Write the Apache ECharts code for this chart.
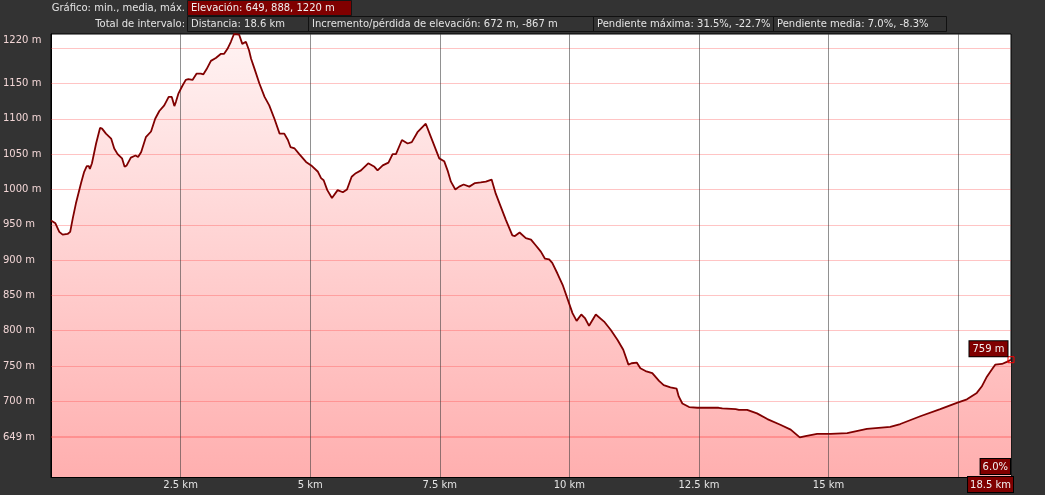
<!DOCTYPE html>
<html>
<head>
<meta charset="utf-8">
<script src="https://cdn.jsdelivr.net/npm/echarts@6/dist/echarts.min.js"></script>
<style>
html,body{margin:0;padding:0;background:#333333;}
#chart{width:1045px;height:495px;}
</style>
</head>
<body>
<div id="chart"></div>
<script>
// ---- data ----
const distanceKm = [0.00,0.085,0.16,0.225,0.32,0.37,0.42,0.48,0.58,0.64,0.69,0.73,0.75,0.79,0.87,0.946,0.985,1.06,1.16,1.22,1.285,1.37,1.42,1.46,1.54,1.63,1.68,1.74,1.83,1.93,2.01,2.09,2.185,2.27,2.33,2.38,2.41,2.46,2.53,2.60,2.65,2.73,2.81,2.89,2.94,3.00,3.085,3.18,3.28,3.34,3.405,3.47,3.53,3.63,3.69,3.76,3.82,3.86,3.925,4.02,4.12,4.21,4.31,4.41,4.50,4.57,4.62,4.70,4.79,4.92,5.02,5.15,5.21,5.26,5.33,5.42,5.53,5.63,5.71,5.80,5.88,5.98,6.12,6.24,6.30,6.40,6.51,6.59,6.655,6.77,6.88,6.96,7.07,7.23,7.33,7.49,7.585,7.65,7.715,7.80,7.875,7.96,8.07,8.18,8.29,8.39,8.50,8.58,8.68,8.775,8.90,8.95,9.04,9.16,9.26,9.35,9.45,9.53,9.61,9.67,9.77,9.87,9.975,10.06,10.14,10.23,10.30,10.38,10.51,10.67,10.80,10.93,11.04,11.14,11.20,11.235,11.30,11.32,11.37,11.47,11.60,11.73,11.82,11.95,12.07,12.11,12.18,12.31,12.47,12.88,12.95,13.21,13.27,13.43,13.62,13.82,14.07,14.27,14.445,14.555,14.78,15.04,15.36,15.74,16.19,16.385,16.77,17.155,17.475,17.67,17.86,17.955,18.055,18.15,18.215,18.345,18.44,18.52];
const elevationM = [956,952,940,936,937,940,959,980,1009,1025,1033,1033,1029,1037,1065,1087,1086,1079,1072,1058,1050,1044,1032,1034,1045,1048,1046,1053,1074,1082,1100,1111,1119,1131,1131,1118,1124,1136,1146,1155,1156,1155,1164,1164,1163,1170,1182,1186,1192,1192,1199,1209,1220,1219,1206,1209,1197,1185,1171,1150,1131,1119,1100,1079,1079,1070,1060,1058,1050,1039,1034,1025,1016,1013,999,988,999,996,1000,1018,1023,1027,1037,1032,1027,1034,1038,1050,1050,1070,1065,1067,1081,1093,1074,1044,1040,1027,1011,1000,1004,1007,1004,1009,1010,1011,1014,994,975,957,935,934,939,931,929,921,912,902,901,896,881,865,843,825,814,823,818,807,823,813,801,787,773,752,754,752,755,755,747,743,740,729,723,720,718,707,697,692,691,691,690,689,688,688,683,675,667,660,649,651,654,654,655,661,664,668,679,689,698,703,712,721,735,745,752,753,756,759];

const yLabelValues = [649,700,750,800,850,900,950,1000,1050,1100,1150,1220];
const yGridValues = [650,700,750,800,850,900,950,1000,1050,1100,1150,1200];
const xGridValues = [2.5,5,7.5,10,12.5,15,17.5];
const xLabelValues = [2.5,5,7.5,10,12.5,15];
const elevMin = 649, elevMean = 888, elevMax = 1220;
const yAxisMin = 593;
const endGrade = '6.0%';

const headerRow1Label = 'Gráfico: min., media, máx.';
const headerRow1Value = 'Elevación: ' + elevMin + ', ' + elevMean + ', ' + elevMax + ' m';
const headerRow2Label = 'Total de intervalo:';
const headerRow2Items = ['Distancia: 18.6 km','Incremento/pérdida de elevación: 672 m, -867 m','Pendiente máxima: 31.5%, -22.7%','Pendiente media: 7.0%, -8.3%'];

// ---- layout / style ----
const FONT = 'DejaVu Sans';
const txtShadow = {textShadowColor:'#000', textShadowOffsetX:1, textShadowOffsetY:1, textShadowBlur:0};
const row2Edges = [187,308,593,773,946];

const lastIdx = distanceKm.length - 1;
const areaData = distanceKm.map((d,i)=>[d, elevationM[i]]);
const lineData = distanceKm.map((d,i)=>{
  if (i !== lastIdx) return [d, elevationM[i]];
  return {
    value:[d, elevationM[i]],
    symbol:'rect', symbolSize:6,
    itemStyle:{color:'rgba(0,0,0,0)', borderColor:'#ff0000', borderWidth:1},
    label:{
      show:true, position:[0,0], align:'right', verticalAlign:'bottom',
      formatter: elevationM[i] + ' m',
      fontFamily:FONT, fontSize:10, lineHeight:12, color:'#f0f0f0',
      backgroundColor:'#800000', borderColor:'#000', borderWidth:1, padding:[2,3,1,3]
    }
  };
});

const graphics = [];
graphics.push({type:'text', x:185, y:8, z:10, style:Object.assign({text:headerRow1Label, align:'right', verticalAlign:'middle', fill:'#e4e4e4', font:'10px "'+FONT+'"'}, txtShadow)});
graphics.push({type:'rect', z:10, shape:{x:187.5, y:0.5, width:164, height:15}, style:{fill:'#800000', stroke:'#151515', lineWidth:1}});
graphics.push({type:'text', x:191, y:8, z:11, style:Object.assign({text:headerRow1Value, align:'left', verticalAlign:'middle', fill:'#eeeeee', font:'10px "'+FONT+'"'}, txtShadow)});
graphics.push({type:'text', x:185, y:24, z:10, style:Object.assign({text:headerRow2Label, align:'right', verticalAlign:'middle', fill:'#e4e4e4', font:'10px "'+FONT+'"'}, txtShadow)});
headerRow2Items.forEach((t,i)=>{
  const x0 = row2Edges[i], x1 = row2Edges[i+1];
  graphics.push({type:'rect', z:10, shape:{x:x0+0.5, y:16.5, width:x1-x0, height:15}, style:{fill:'#333333', stroke:'#111111', lineWidth:1}});
  graphics.push({type:'text', x:x0+4, y:24, z:11, style:Object.assign({text:t, align:'left', verticalAlign:'middle', fill:'#e4e4e4', font:'10px "'+FONT+'"'}, txtShadow)});
});
graphics.push({type:'text', x:1010, y:459, z:12, style:{text:endGrade, align:'right', verticalAlign:'top', fill:'#f0f0f0', font:'10px "'+FONT+'"', backgroundColor:'#800000', borderColor:'#000', borderWidth:1, padding:[2,2,1,2], lineHeight:12}});
graphics.push({type:'text', x:1013, y:477, z:12, style:{text:distanceKm[lastIdx].toFixed(1)+' km', align:'right', verticalAlign:'top', fill:'#f0f0f0', font:'10px "'+FONT+'"', backgroundColor:'#800000', borderColor:'#000', borderWidth:1, padding:[2,2,1,2], lineHeight:12}});

const markLineData = []
  .concat(yGridValues.map(v=>({yAxis:v})))
  .concat([{yAxis:elevMin}])
  .concat(xGridValues.map(v=>({xAxis:v, lineStyle:{color:'rgba(55,55,55,0.55)', width:1, type:'solid'}})));

const chart = echarts.init(document.getElementById('chart'), null, {renderer:'canvas'});
chart.setOption({
  animation:false,
  backgroundColor:'#333333',
  grid:{left:50, right:34, top:34, bottom:18, show:true, backgroundColor:'#ffffff', borderColor:'#000', borderWidth:1},
  xAxis:{
    type:'value', min:0, max:distanceKm[lastIdx], interval:2.5, z:4,
    axisLine:{show:true, onZero:false, lineStyle:{color:'#000', width:1}},
    axisTick:{show:false}, splitLine:{show:false},
    axisLabel:Object.assign({customValues:xLabelValues, margin:3, fontFamily:FONT, fontSize:10, color:'#e4e4e4', formatter:v=>v+' km'}, txtShadow)
  },
  yAxis:{
    type:'value', min:yAxisMin, max:elevMax, z:4,
    axisLine:{show:true, onZero:false, lineStyle:{color:'#000', width:1}},
    axisTick:{show:false}, splitLine:{show:false},
    axisLabel:Object.assign({
      customValues:yLabelValues, align:'left', margin:48, fontFamily:FONT, fontSize:10, color:'#f2d6d6',
      formatter:v=> v===elevMax ? '{top|'+v+' m}' : v+' m',
      rich:{top:Object.assign({padding:[12,0,0,0], fontFamily:FONT, fontSize:10, color:'#f2d6d6'}, txtShadow)}
    }, txtShadow)
  },
  series:[
    {
      type:'line', data:areaData, symbol:'none', silent:true, z:2,
      lineStyle:{width:0},
      areaStyle:{color:new echarts.graphic.LinearGradient(0,0,0,1,[{offset:0,color:'#fff3f3'},{offset:1,color:'#ffafaf'}]), opacity:1},
      markLine:{
        silent:true, symbol:['none','none'], label:{show:false}, animation:false,
        lineStyle:{color:'rgba(255,60,60,0.3)', width:1, type:'solid'},
        data:markLineData
      }
    },
    {
      type:'line', data:lineData, symbol:'none', z:10, silent:true,
      lineStyle:{color:'#800000', width:1.8}
    }
  ],
  graphic:graphics
});
</script>
</body>
</html>
